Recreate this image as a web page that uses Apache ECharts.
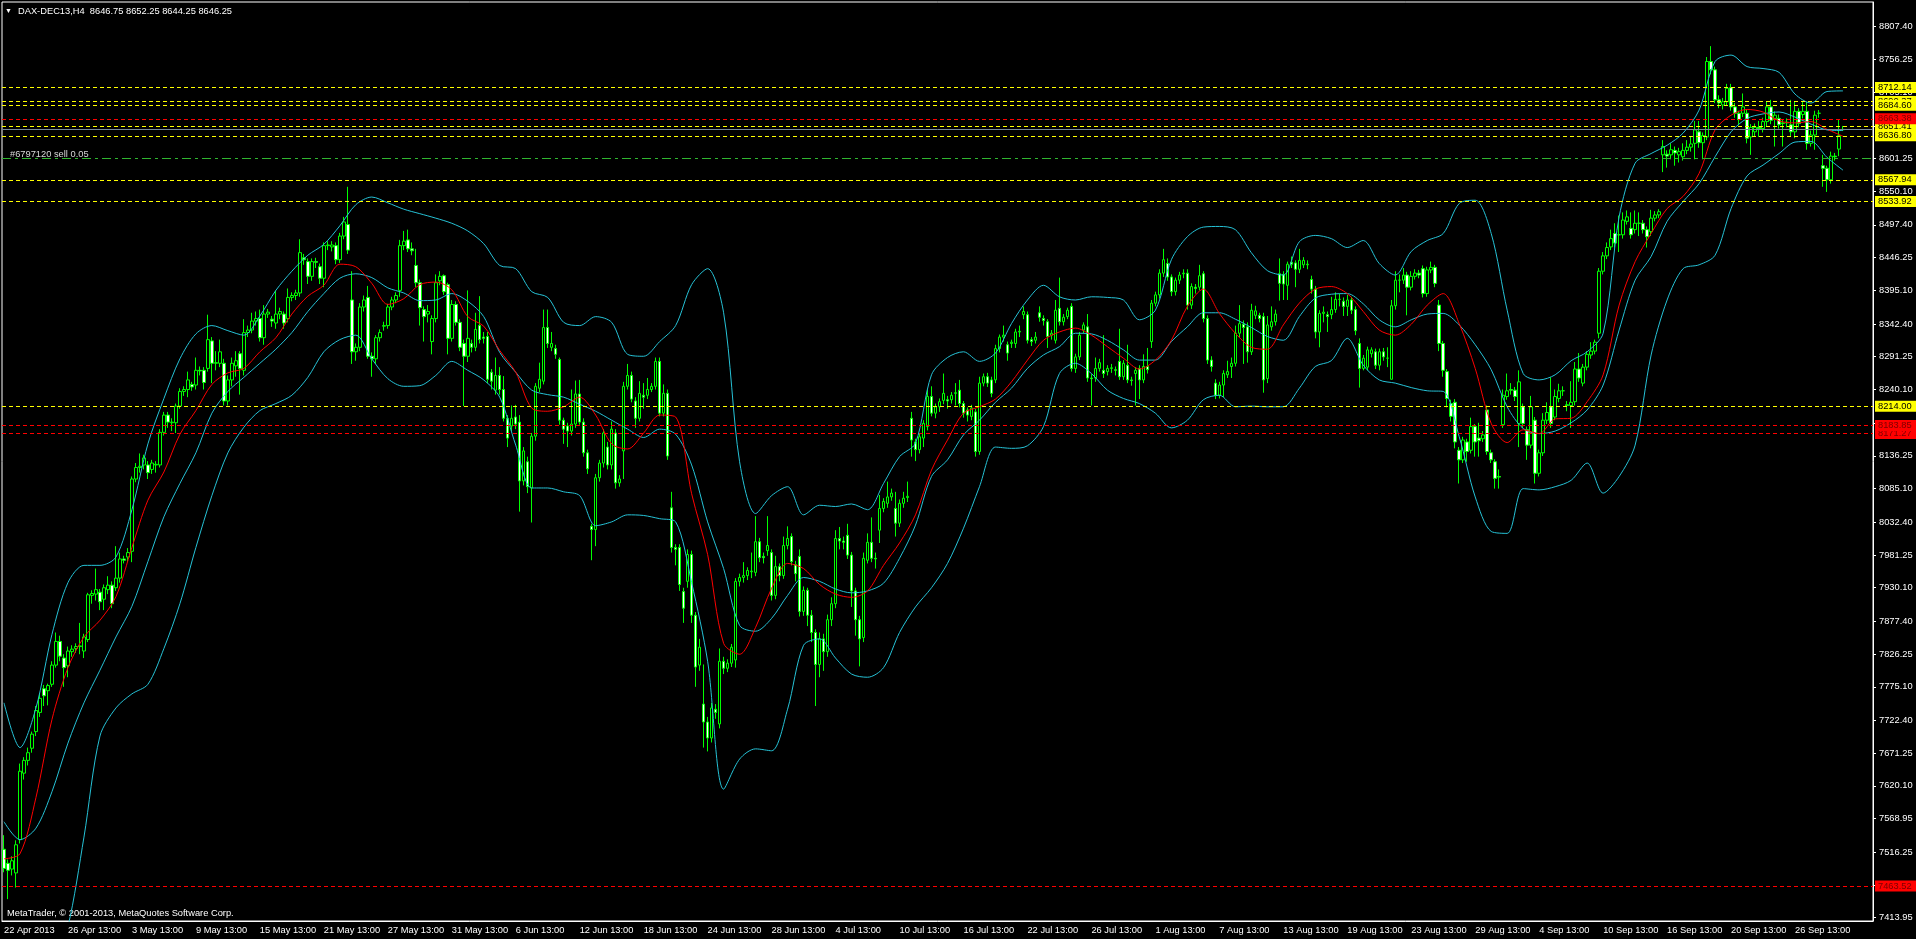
<!DOCTYPE html>
<html><head><meta charset="utf-8">
<script src="https://cdn.jsdelivr.net/npm/echarts@6/dist/echarts.min.js"></script>
<style>html,body{margin:0;padding:0;background:#000;overflow:hidden}#c{width:1916px;height:939px}</style>
</head><body><div id="c"></div><script>
const symbolName = 'DAX-DEC13,H4';
const copyrightText = 'MetaTrader, \u00a9 2001-2013, MetaQuotes Software Corp.';
const tradeText = '#6797120 sell 0.05';
const tickLabels = ['22 Apr 2013','26 Apr 13:00','3 May 13:00','9 May 13:00','15 May 13:00','21 May 13:00','27 May 13:00','31 May 13:00','6 Jun 13:00','12 Jun 13:00','18 Jun 13:00','24 Jun 13:00','28 Jun 13:00','4 Jul 13:00','10 Jul 13:00','16 Jul 13:00','22 Jul 13:00','26 Jul 13:00','1 Aug 13:00','7 Aug 13:00','13 Aug 13:00','19 Aug 13:00','23 Aug 13:00','29 Aug 13:00','4 Sep 13:00','10 Sep 13:00','16 Sep 13:00','20 Sep 13:00','26 Sep 13:00'];
const priceTicks = [8807.40,8756.25,8705.10,8652.40,8601.25,8550.10,8497.40,8446.25,8395.10,8342.40,8291.25,8240.10,8187.40,8136.25,8085.10,8032.40,7981.25,7930.10,7877.40,7826.25,7775.10,7722.40,7671.25,7620.10,7568.95,7516.25,7465.10,7413.95];
// [open, close, low, high] per H4 bar
const candleOCLH = [
[7521,7491,7485,7543],[7499,7488,7443,7505],[7490,7503,7480,7510],[7484,7528,7461,7535],[7536,7643,7530,7655],[7640,7660,7630,7665],[7660,7672,7652,7680],[7679,7701,7672,7705],[7705,7738,7698,7745],[7735,7757,7728,7765],
[7772,7761,7745,7778],[7769,7777,7746,7780],[7779,7809,7775,7815],[7809,7846,7805,7860],[7846,7823,7815,7855],[7820,7805,7775,7826],[7808,7831,7790,7838],[7830,7834,7822,7840],[7835,7838,7828,7843],[7838,7839,7826,7875],
[7831,7853,7820,7858],[7849,7919,7845,7922],[7918,7921,7905,7926],[7920,7927,7910,7960],[7923,7908,7895,7928],[7912,7930,7895,7935],[7927,7934,7920,7948],[7934,7905,7898,7940],[7930,7945,7925,7995],[7945,7975,7938,7985],
[7975,7973,7968,7980],[7978,7985,7970,7992],[7987,8100,7970,8104],[8100,8118,8095,8125],[8118,8120,8110,8140],[8122,8133,8115,8138],[8122,8110,8100,8128],[8115,8125,8108,8130],[8122,8123,8110,8128],[8122,8173,8118,8178],
[8173,8200,8168,8205],[8200,8189,8180,8205],[8188,8189,8175,8195],[8188,8214,8172,8218],[8214,8237,8210,8242],[8237,8240,8230,8245],[8240,8255,8228,8268],[8248,8244,8238,8252],[8247,8270,8240,8290],[8270,8269,8262,8276],
[8270,8251,8240,8275],[8273,8318,8268,8357],[8316,8281,8250,8322],[8281,8282,8270,8300],[8281,8299,8275,8318],[8281,8222,8215,8288],[8222,8255,8215,8262],[8255,8281,8245,8290],[8277,8285,8260,8300],[8296,8273,8232,8300],
[8270,8329,8262,8350],[8329,8333,8322,8340],[8333,8347,8328,8360],[8347,8351,8340,8362],[8351,8321,8315,8365],[8321,8358,8310,8372],[8358,8361,8352,8366],[8350,8347,8338,8355],[8344,8358,8335,8395],[8358,8362,8350,8368],
[8358,8344,8335,8362],[8351,8384,8345,8398],[8384,8387,8378,8392],[8387,8391,8380,8396],[8391,8454,8385,8475],[8446,8443,8435,8452],[8440,8417,8405,8445],[8417,8440,8410,8445],[8440,8439,8430,8446],[8432,8414,8405,8437],
[8414,8465,8400,8470],[8465,8466,8458,8472],[8463,8466,8456,8472],[8465,8443,8436,8470],[8443,8480,8438,8485],[8480,8502,8475,8510],[8498,8458,8452,8557],[8380,8299,8280,8425],[8299,8306,8285,8312],[8306,8369,8300,8375],
[8369,8380,8362,8387],[8384,8292,8288,8402],[8292,8288,8260,8298],[8288,8321,8280,8325],[8321,8329,8315,8334],[8339,8340,8332,8346],[8340,8369,8335,8374],[8369,8380,8364,8385],[8380,8387,8375,8392],[8395,8465,8385,8474],
[8465,8472,8458,8488],[8474,8460,8455,8490],[8460,8457,8450,8470],[8434,8407,8400,8460],[8407,8368,8340,8412],[8365,8354,8315,8370],[8358,8362,8345,8372],[8315,8351,8295,8356],[8351,8407,8345,8420],[8410,8417,8403,8425],
[8418,8393,8388,8420],[8404,8320,8295,8407],[8320,8373,8315,8380],[8373,8345,8340,8378],[8345,8306,8300,8350],[8312,8292,8214,8318],[8292,8320,8283,8395],[8312,8306,8298,8318],[8306,8334,8300,8360],[8340,8318,8312,8386],
[8322,8320,8312,8330],[8323,8256,8250,8330],[8267,8253,8240,8272],[8239,8262,8232,8290],[8262,8240,8232,8275],[8240,8195,8190,8261],[8195,8164,8150,8200],[8183,8195,8175,8215],[8197,8186,8178,8216],[8189,8097,8049,8200],
[8097,8144,8090,8150],[8127,8088,8078,8135],[8086,8167,8032,8172],[8167,8245,8160,8250],[8242,8256,8236,8282],[8253,8337,8248,8365],[8337,8312,8305,8365],[8306,8312,8300,8330],[8304,8295,8288,8310],[8287,8192,8185,8290],
[8192,8178,8155,8196],[8183,8175,8150,8188],[8175,8186,8168,8240],[8186,8233,8180,8254],[8233,8189,8185,8255],[8189,8141,8135,8195],[8141,8116,8108,8146],[8026,8021,7973,8030],[8021,8102,7995,8108],[8102,8125,8096,8130],
[8125,8172,8118,8178],[8150,8122,8115,8158],[8122,8178,8115,8190],[8172,8094,8085,8178],[8094,8100,8088,8106],[8144,8245,8100,8252],[8245,8262,8240,8280],[8262,8225,8220,8268],[8222,8195,8180,8228],[8195,8234,8190,8253],
[8231,8228,8210,8250],[8231,8240,8225,8258],[8240,8245,8236,8250],[8245,8284,8240,8290],[8284,8203,8198,8290],[8203,8234,8198,8248],[8234,8136,8130,8240],[8055,7993,7985,8080],[7993,7990,7965,7998],[7993,7935,7925,7998],
[7924,7898,7875,7930],[7940,7982,7930,7990],[7982,7887,7875,7988],[7887,7806,7775,7892],[7809,7837,7800,7850],[7748,7720,7680,7810],[7720,7695,7674,7728],[7695,7742,7688,7750],[7740,7735,7725,7748],[7717,7815,7710,7835],
[7815,7804,7795,7822],[7804,7812,7798,7818],[7812,7837,7806,7842],[7817,7940,7805,7945],[7940,7946,7932,7952],[7946,7949,7938,7970],[7949,7957,7942,7962],[7955,7956,7945,7985],[7954,8002,7948,8042],[8002,7977,7970,8008],
[7979,7977,7968,7985],[7988,7996,7980,8042],[7985,7918,7910,7990],[7918,7963,7912,7980],[7963,7949,7940,7968],[7949,7996,7944,8010],[7996,8007,7990,8026],[8010,7971,7965,8015],[7966,7952,7940,7972],[7979,7893,7885,7990],
[7893,7926,7886,7932],[7926,7887,7870,7930],[7887,7860,7845,7895],[7860,7810,7745,7865],[7810,7850,7790,7860],[7850,7830,7800,7858],[7830,7880,7822,7888],[7880,7905,7870,7915],[7905,8007,7898,8020],[8007,8003,7990,8025],
[8003,8001,7990,8010],[8012,7981,7975,8030],[7981,7925,7900,7986],[7925,7880,7855,7930],[7880,7850,7807,7886],[7852,7976,7845,7985],[7973,8001,7968,8015],[8001,7976,7970,8040],[7976,7975,7960,7985],[8020,8054,8000,8075],
[8054,8065,8048,8070],[8062,8072,8055,8096],[8072,8078,8066,8085],[8054,8031,8010,8080],[8031,8062,8025,8068],[8062,8070,8055,8080],[8071,8073,8064,8096],[8195,8161,8135,8205],[8158,8146,8128,8163],[8146,8166,8140,8172],
[8164,8187,8150,8192],[8182,8229,8176,8240],[8229,8203,8198,8245],[8203,8213,8195,8218],[8213,8221,8205,8226],[8223,8234,8217,8265],[8224,8222,8210,8230],[8224,8231,8218,8236],[8234,8235,8215,8250],[8239,8218,8212,8255],
[8218,8203,8196,8222],[8208,8200,8190,8212],[8198,8211,8192,8216],[8205,8143,8135,8210],[8143,8250,8138,8260],[8250,8260,8245,8265],[8260,8250,8244,8266],[8255,8234,8228,8260],[8255,8304,8250,8310],[8304,8322,8298,8326],
[8322,8325,8315,8340],[8310,8297,8285,8315],[8312,8314,8305,8318],[8312,8330,8305,8335],[8330,8331,8322,8340],[8357,8362,8350,8370],[8357,8317,8312,8362],[8318,8315,8308,8322],[8317,8322,8312,8330],[8360,8353,8346,8370],
[8351,8348,8340,8356],[8346,8323,8305,8350],[8325,8328,8318,8333],[8317,8364,8312,8380],[8367,8346,8340,8415],[8346,8353,8340,8358],[8354,8364,8350,8368],[8370,8273,8268,8375],[8273,8291,8266,8296],[8291,8325,8286,8330],
[8333,8341,8328,8345],[8338,8258,8252,8358],[8258,8257,8215,8264],[8258,8273,8252,8290],[8273,8282,8268,8288],[8270,8265,8258,8325],[8268,8273,8262,8278],[8273,8274,8266,8280],[8271,8270,8262,8276],[8284,8260,8255,8335],
[8260,8281,8255,8286],[8278,8255,8250,8310],[8255,8254,8246,8260],[8265,8270,8215,8275],[8273,8255,8225,8278],[8255,8276,8250,8295],[8276,8271,8265,8305],[8315,8375,8305,8380],[8375,8388,8370,8393],[8388,8422,8382,8428],
[8422,8443,8416,8460],[8437,8416,8410,8445],[8416,8393,8386,8420],[8393,8411,8387,8415],[8411,8419,8405,8424],[8421,8422,8414,8428],[8422,8372,8365,8428],[8372,8401,8366,8406],[8400,8398,8390,8405],[8400,8418,8395,8435],
[8421,8351,8345,8425],[8351,8286,8280,8356],[8286,8276,8268,8292],[8250,8231,8225,8256],[8231,8247,8226,8252],[8247,8265,8228,8270],[8263,8268,8258,8285],[8276,8281,8258,8290],[8281,8328,8276,8340],[8328,8343,8322,8372],
[8342,8337,8280,8348],[8338,8299,8282,8345],[8299,8364,8294,8374],[8356,8363,8350,8371],[8356,8351,8345,8360],[8354,8255,8235,8360],[8257,8341,8250,8355],[8338,8346,8332,8370],[8346,8358,8340,8365],[8421,8406,8379,8445],
[8420,8405,8380,8425],[8403,8436,8380,8440],[8439,8436,8430,8448],[8438,8428,8400,8442],[8428,8442,8422,8460],[8435,8442,8430,8447],[8435,8436,8428,8442],[8412,8397,8390,8418],[8397,8330,8320,8402],[8330,8359,8306,8364],
[8359,8361,8345,8370],[8357,8354,8330,8362],[8357,8365,8350,8385],[8365,8381,8360,8392],[8381,8381,8370,8390],[8378,8370,8355,8384],[8370,8380,8355,8388],[8380,8364,8358,8385],[8365,8332,8325,8370],[8312,8273,8243,8320],
[8273,8289,8270,8294],[8275,8302,8270,8307],[8296,8302,8290,8306],[8299,8278,8272,8304],[8278,8299,8270,8304],[8299,8291,8285,8305],[8289,8289,8275,8306],[8256,8371,8256,8380],[8371,8411,8365,8425],[8411,8411,8392,8420],
[8411,8419,8405,8430],[8419,8400,8356,8424],[8400,8417,8395,8425],[8417,8422,8412,8428],[8422,8419,8414,8427],[8429,8390,8384,8434],[8390,8427,8385,8432],[8427,8431,8422,8440],[8431,8406,8400,8435],[8372,8312,8300,8380],
[8312,8270,8260,8316],[8268,8226,8212,8272],[8218,8198,8190,8224],[8220,8158,8148,8225],[8145,8130,8093,8150],[8130,8161,8125,8166],[8158,8143,8127,8163],[8145,8182,8140,8196],[8182,8158,8135,8186],[8164,8160,8135,8188],
[8163,8169,8158,8175],[8208,8143,8138,8215],[8141,8130,8125,8146],[8127,8101,8085,8131],[8104,8103,8085,8115],[8185,8231,8180,8240],[8229,8238,8224,8265],[8240,8239,8232,8250],[8239,8229,8222,8244],[8187,8252,8150,8270],
[8213,8187,8180,8218],[8177,8153,8130,8182],[8153,8213,8148,8230],[8192,8109,8093,8197],[8109,8141,8104,8146],[8141,8192,8136,8203],[8192,8204,8186,8220],[8213,8187,8180,8259],[8197,8229,8192,8240],[8226,8238,8220,8249],
[8238,8238,8230,8245],[8216,8215,8206,8222],[8215,8220,8180,8253],[8221,8272,8215,8283],[8272,8258,8252,8297],[8250,8275,8245,8280],[8275,8295,8270,8300],[8294,8300,8288,8314],[8300,8314,8295,8318],[8328,8425,8320,8430],
[8425,8449,8420,8455],[8449,8462,8444,8470],[8463,8476,8458,8490],[8484,8469,8462,8500],[8482,8482,8455,8512],[8482,8505,8476,8517],[8503,8510,8498,8520],[8492,8482,8476,8517],[8490,8500,8484,8520],[8500,8500,8480,8517],
[8500,8490,8484,8505],[8490,8479,8462,8495],[8487,8508,8480,8521],[8508,8513,8503,8519],[8513,8518,8508,8522],[8607,8620,8580,8630],[8608,8605,8587,8614],[8607,8615,8600,8625],[8614,8610,8590,8620],[8607,8612,8595,8618],
[8604,8614,8598,8625],[8614,8619,8608,8630],[8619,8624,8612,8636],[8625,8646,8600,8660],[8643,8626,8618,8660],[8626,8637,8600,8642],[8635,8753,8630,8760],[8753,8740,8733,8777],[8740,8693,8688,8745],[8693,8688,8680,8700],
[8685,8690,8678,8696],[8690,8711,8684,8718],[8712,8682,8676,8718],[8682,8672,8665,8688],[8672,8662,8653,8676],[8672,8682,8666,8703],[8672,8633,8625,8678],[8635,8650,8607,8655],[8643,8650,8636,8656],[8650,8648,8635,8660],
[8648,8659,8642,8665],[8659,8682,8652,8690],[8682,8661,8655,8693],[8664,8669,8620,8675],[8664,8654,8648,8670],[8656,8657,8620,8663],[8657,8658,8650,8664],[8654,8643,8636,8693],[8643,8675,8633,8690],[8675,8656,8650,8680],
[8670,8675,8664,8690],[8675,8625,8615,8690],[8625,8638,8620,8645],[8638,8669,8615,8676],[8672,8672,8665,8677],[8590,8586,8557,8607],[8586,8568,8549,8590],[8568,8605,8562,8612],[8605,8604,8598,8610],[8616,8637,8605,8662],
[8646.75,8646.25,8644.25,8652.25]
];
// indicator readings, one every bandStep bars
const bandStep = 4;
const bbUpper = [7750,7680,7742,7857,7938,7965,7965,7978,8052,8155,8226,8288,8327,8340,8332,8325,8355,8395,8425,8450,8467,8496,8529,8541,8532,8522,8515,8508,8500,8488,8468,8434,8429,8393,8384,8345,8340,8354,8345,8295,8292,8315,8340,8404,8429,8360,8127,8046,8074,8088,8044,8059,8057,8061,8052,8093,8135,8156,8263,8290,8299,8284,8297,8343,8380,8403,8385,8380,8385,8384,8380,8349,8364,8443,8479,8494,8495,8490,8454,8426,8419,8471,8481,8476,8462,8473,8437,8419,8456,8473,8484,8531,8536,8484,8364,8265,8255,8263,8285,8299,8328,8510,8594,8609,8622,8641,8677,8753,8763,8745,8742,8736,8702,8688,8706,8707];
const bbMiddle = [7564,7536,7554,7611,7687,7750,7801,7853,7901,7971,8041,8093,8141,8203,8237,8259,8281,8303,8329,8362,8390,8414,8421,8415,8399,8391,8379,8380,8390,8378,8354,8298,8267,8239,8232,8228,8217,8206,8192,8178,8165,8178,8170,8122,8033,7960,7871,7862,7882,7918,7946,7940,7928,7922,7925,7937,7976,8028,8104,8130,8169,8192,8220,8242,8273,8294,8307,8328,8327,8317,8302,8286,8286,8315,8338,8360,8360,8350,8337,8323,8317,8354,8383,8389,8390,8374,8349,8338,8349,8358,8359,8341,8310,8271,8213,8179,8171,8175,8188,8208,8247,8333,8411,8448,8503,8534,8562,8604,8643,8664,8671,8674,8666,8655,8646,8645];
const bbLower = [7370,7330,7300,7330,7400,7540,7698,7742,7764,7779,7835,7905,7993,8074,8141,8181,8207,8218,8231,8259,8299,8318,8325,8288,8257,8245,8246,8262,8284,8270,8255,8228,8153,8086,8086,8080,8074,8027,8033,8044,8043,8038,8033,7938,7815,7615,7662,7678,7675,7740,7840,7850,7820,7795,7790,7805,7860,7900,7930,7968,8023,8088,8150,8148,8152,8182,8265,8281,8265,8239,8226,8218,8203,8180,8192,8224,8231,8213,8214,8213,8213,8242,8276,8285,8320,8278,8255,8250,8243,8238,8237,8166,8072,8018,8015,8085,8083,8088,8098,8125,8078,8104,8153,8294,8380,8429,8435,8450,8523,8574,8591,8609,8627,8628,8603,8583];
const maRed = [7506,7514,7602,7724,7805,7853,7879,7916,7993,8067,8111,8170,8207,8248,8266,8273,8299,8321,8358,8386,8403,8436,8432,8406,8373,8382,8404,8408,8396,8354,8339,8301,8267,8211,8206,8213,8228,8200,8155,8147,8172,8200,8197,8077,7982,7843,7826,7868,7929,7968,7960,7935,7920,7915,7925,7965,8000,8044,8114,8161,8203,8213,8225,8252,8286,8317,8330,8336,8325,8307,8289,8272,8286,8317,8370,8397,8359,8328,8306,8303,8341,8375,8397,8401,8390,8362,8333,8325,8342,8372,8390,8343,8273,8187,8157,8177,8171,8194,8195,8221,8263,8372,8440,8484,8523,8542,8578,8646,8669,8678,8674,8660,8657,8659,8647,8636];
const yellowLevels = [8712.14, 8690.37, 8684.60, 8651.41, 8636.80, 8567.94, 8533.92, 8214.00];
const redLevels = [7463.52, 8171.27, 8183.85, 8663.38];
const tradeLevel = 8601.25;
const rightPadSlots = 7;

const FONT = 'Tahoma, "Liberation Sans", Arial, sans-serif';
const FS = 9.3;
const nSlots = candleOCLH.length + rightPadSlots;
const slotIds = Array.from({length: nSlots}, (_, i) => i);
function onSlots(values) {
  const out = new Array(nSlots).fill(null);
  values.forEach((v, k) => { out[k * bandStep] = v; });
  return out;
}
const last = candleOCLH[candleOCLH.length - 1];
const titleText = symbolName + '  ' + [last[0], last[3], last[2], last[1]].map(v => v.toFixed(2)).join(' ');
const bidLevel = last[1];

function levelItem(v, lineColor, bg, fg) {
  return {
    yAxis: v,
    lineStyle: {color: lineColor, type: [4, 3], width: 1},
    label: {show: true, position: 'end', distance: 2, formatter: () => v.toFixed(2),
      color: fg, backgroundColor: bg, padding: [1, 6, 0, 3], fontSize: FS, fontFamily: FONT, lineHeight: 10}
  };
}
const levelItems = [
  {yAxis: tradeLevel, lineStyle: {color: '#2fb52f', type: [9, 4, 3, 4], width: 1},
   label: {show: true, position: 'insideStartTop', distance: [8, 0], formatter: tradeText, color: '#d8d8d8', fontSize: FS, fontFamily: FONT}},
  {yAxis: bidLevel, lineStyle: {color: '#778899', type: 'solid', width: 1}, label: {show: false}}
];
yellowLevels.forEach(v => levelItems.push(levelItem(v, '#ffff00', '#ffff00', '#000000')));
redLevels.forEach(v => levelItems.push(levelItem(v, '#ff0000', '#ff0000', '#7a0000')));

function bandSeries(values, color) {
  return {type: 'line', data: onSlots(values), connectNulls: true, showSymbol: false, symbol: 'none',
    smooth: 0.3, lineStyle: {color: color, width: 1}, z: 3, silent: true, animation: false};
}

const chart = echarts.init(document.getElementById('c'), null, {renderer: 'canvas'});
chart.setOption({
  backgroundColor: '#000000',
  animation: false,
  grid: {left: 2, top: 2, width: 1871, height: 919, show: true, borderColor: '#ffffff', borderWidth: 1, backgroundColor: '#000000'},
  xAxis: {
    type: 'category', data: slotIds, boundaryGap: true,
    axisLine: {lineStyle: {color: '#ffffff', width: 1}},
    axisTick: {alignWithLabel: true, interval: 15, length: 4, lineStyle: {color: '#ffffff'}},
    axisLabel: {interval: 15, align: 'left', margin: 5, color: '#ffffff', fontSize: FS, fontFamily: FONT,
      formatter: (val, idx) => tickLabels[Math.round(idx / 16)] || ''},
    splitLine: {show: false}
  },
  yAxis: {
    type: 'value', position: 'right', min: 7408.79, max: 8846.03,
    axisLine: {show: true, lineStyle: {color: '#ffffff', width: 1}},
    axisTick: {show: true, length: 3, customValues: priceTicks, lineStyle: {color: '#ffffff'}},
    axisLabel: {customValues: priceTicks, margin: 6, color: '#ffffff', fontSize: FS, fontFamily: FONT,
      formatter: v => Number(v).toFixed(2)},
    splitLine: {show: false}
  },
  series: [
    {type: 'candlestick', data: candleOCLH, barWidth: 3, z: 2, silent: true, animation: false,
     itemStyle: {color: '#000000', color0: '#ffffff', borderColor: '#00ff00', borderColor0: '#00ff00', borderColorDoji: '#00ff00', borderWidth: 1}},
    bandSeries(bbUpper, '#26c2d6'),
    bandSeries(bbMiddle, '#26c2d6'),
    bandSeries(bbLower, '#26c2d6'),
    bandSeries(maRed, '#ff0000'),
    {type: 'line', data: [], z: 5, silent: true, animation: false,
     markLine: {silent: true, animation: false, symbol: ['none', 'none'], data: levelItems}}
  ],
  graphic: [
    {type: 'text', x: 5, y: 11, style: {text: '\u25BC', fill: '#ffffff', fontSize: 7, fontFamily: FONT, verticalAlign: 'middle'}},
    {type: 'text', x: 18, y: 11, style: {text: titleText, fill: '#ffffff', fontSize: FS, fontFamily: FONT, verticalAlign: 'middle'}},
    {type: 'text', x: 7, y: 913, style: {text: copyrightText, fill: '#ffffff', fontSize: FS, fontFamily: FONT, verticalAlign: 'middle'}}
  ]
});
</script></body></html>
